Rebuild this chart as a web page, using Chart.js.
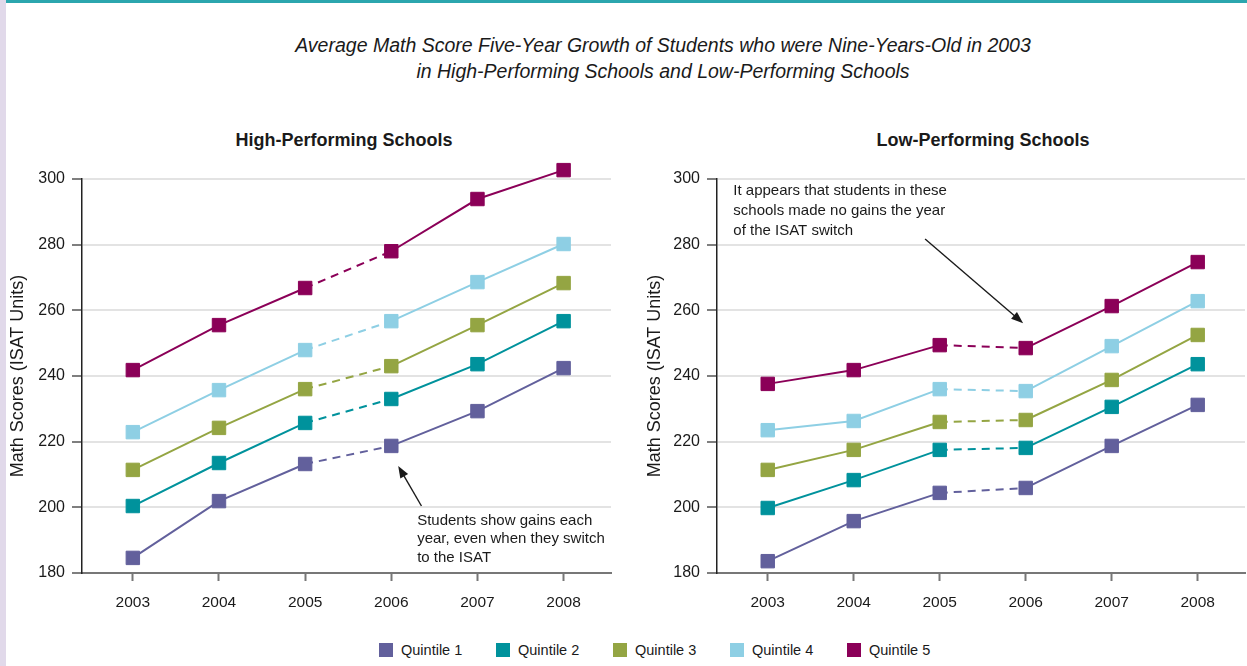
<!DOCTYPE html>
<html>
<head>
<meta charset="utf-8">
<script src="https://cdn.jsdelivr.net/npm/chart.js@4/dist/chart.umd.min.js"></script>
<style>
  body { margin: 0; background: #fff; width: 1247px; height: 666px; overflow: hidden; position: relative;
         font-family: "Liberation Sans Narrow", "Arial Narrow", "Liberation Sans", Arial, sans-serif; color: #1a1a1a; }
  #strip { position: absolute; left: 0; top: 0; width: 6px; height: 666px; background: #e1d9ea; }
  #topline { position: absolute; left: 6px; top: 0; right: 0; height: 3px; background: #2ba6ae; }
  #title { position: absolute; left: 663px; top: 32px; transform: translateX(-50%); text-align: center;
           font-style: italic; font-size: 19.5px; line-height: 26px; white-space: nowrap; }
  .sub { position: absolute; top: 130px; transform: translateX(-50%); font-weight: bold; font-size: 18px; white-space: nowrap; }
  .box { position: absolute; top: 0; height: 620px; }
  #legend { position: absolute; top: 642px; left: 379px; display: flex; font-size: 14.5px; }
  .item { display: flex; align-items: center; width: 117px; }
  .item span { display: inline-block; width: 14px; height: 14px; margin-right: 8px; }
</style>
</head>
<body>
<div id="strip"></div>
<div id="topline"></div>
<div id="title">Average Math Score Five-Year Growth of Students who were Nine-Years-Old in 2003<br>in High-Performing Schools and Low-Performing Schools</div>
<div class="sub" style="left:344px">High-Performing Schools</div>
<div class="sub" style="left:983px">Low-Performing Schools</div>
<div class="box" style="left:0;width:630px"><canvas id="high"></canvas></div>
<div class="box" style="left:630px;width:617px"><canvas id="low"></canvas></div>
<div id="legend"></div>

<script>
var years = [2003, 2004, 2005, 2006, 2007, 2008];
var names = ["Quintile 1", "Quintile 2", "Quintile 3", "Quintile 4", "Quintile 5"];
var colors = ["#62609c", "#00929c", "#94a543", "#8ecfe4", "#8b0058"];

// high-performing schools
var highQ1 = [184.6, 201.9, 213.2, 218.7, 229.3, 242.4];
var highQ2 = [200.4, 213.5, 225.7, 233.0, 243.6, 256.7];
var highQ3 = [211.4, 224.2, 236.0, 243.0, 255.5, 268.3];
var highQ4 = [222.9, 235.7, 247.9, 256.7, 268.6, 280.2];
var highQ5 = [241.8, 255.5, 266.8, 278.0, 293.9, 302.7];

// low-performing schools
var lowQ1 = [183.6, 195.8, 204.4, 205.9, 218.7, 231.2];
var lowQ2 = [199.8, 208.3, 217.5, 218.1, 230.6, 243.6];
var lowQ3 = [211.4, 217.5, 226.0, 226.6, 238.8, 252.5];
var lowQ4 = [223.5, 226.3, 236.0, 235.4, 249.1, 262.8];
var lowQ5 = [237.6, 241.8, 249.4, 248.5, 261.3, 274.7];

var yTicks = [180, 200, 220, 240, 260, 280, 300];

var FONT = '"Liberation Sans Narrow", "Arial Narrow", "Liberation Sans", Arial, sans-serif';

// legend
var legend = document.getElementById("legend");
for (var i = 0; i < names.length; i++) {
  var it = document.createElement("div");
  it.className = "item";
  it.innerHTML = '<span style="background:' + colors[i] + '"></span>' + names[i];
  legend.appendChild(it);
}

// annotation text + arrow, placed in data coordinates
var notes = {
  id: "notes",
  afterDatasetsDraw: function (chart, args, opts) {
    var ctx = chart.ctx, x = chart.scales.x, y = chart.scales.y;
    ctx.save();
    ctx.fillStyle = "#1a1a1a";
    ctx.font = "15px " + FONT;
    ctx.textBaseline = "middle";
    var tx = x.getPixelForValue(opts.at[0]), ty = y.getPixelForValue(opts.at[1]);
    for (var i = 0; i < opts.lines.length; i++) {
      ctx.fillText(opts.lines[i], tx, ty + i * opts.lh);
    }
    var x0 = x.getPixelForValue(opts.from[0]), y0 = y.getPixelForValue(opts.from[1]);
    var x1 = x.getPixelForValue(opts.to[0]), y1 = y.getPixelForValue(opts.to[1]);
    var a = Math.atan2(y1 - y0, x1 - x0);
    ctx.strokeStyle = "#1a1a1a";
    ctx.lineWidth = 1.4;
    ctx.beginPath();
    ctx.moveTo(x0, y0);
    ctx.lineTo(x1 - 8 * Math.cos(a), y1 - 8 * Math.sin(a));
    ctx.stroke();
    ctx.beginPath();
    ctx.moveTo(x1, y1);
    ctx.lineTo(x1 - 12 * Math.cos(a) + 4.5 * Math.sin(a), y1 - 12 * Math.sin(a) - 4.5 * Math.cos(a));
    ctx.lineTo(x1 - 12 * Math.cos(a) - 4.5 * Math.sin(a), y1 - 12 * Math.sin(a) + 4.5 * Math.cos(a));
    ctx.closePath();
    ctx.fill();
    ctx.restore();
  }
};

function makeChart(id, series, axisW, padRight, titlePad, note) {
  var datasets = [];
  for (var i = series.length - 1; i >= 0; i--) {
    datasets.push({
      label: names[i],
      data: years.map(function (yr, j) { return { x: yr, y: series[i][j] }; }),
      borderColor: colors[i],
      backgroundColor: colors[i],
      borderWidth: 2,
      clip: false,
      pointStyle: "rect",
      pointRadius: 9.5,
      pointHoverRadius: 9.5,
      pointBorderWidth: 1,
      pointBorderColor: colors[i],
      segment: {
        // 2005 -> 2006 is the year of the switch to the ISAT
        borderDash: function (c) { return c.p0DataIndex === 2 ? [8, 6] : undefined; }
      }
    });
  }
  return new Chart(document.getElementById(id), {
    type: "line",
    data: { datasets: datasets },
    options: {
      responsive: true,
      maintainAspectRatio: false,
      animation: false,
      layout: { autoPadding: false, padding: { top: 179, bottom: 7, left: 0, right: padRight } },
      plugins: { legend: { display: false }, tooltip: { enabled: false }, notes: note },
      scales: {
        x: {
          type: "linear",
          min: 2002.41,
          max: 2008.55,
          afterBuildTicks: function (s) { s.ticks = years.map(function (v) { return { value: v }; }); },
          afterFit: function (s) {
            s.height = 40;
            s.paddingLeft = 0; s.paddingRight = 0;
          },
          ticks: { callback: function (v) { return String(v); }, color: "#1a1a1a", font: { family: FONT, size: 15.5 }, padding: 12 },
          grid: { drawOnChartArea: false, tickLength: 8, tickColor: "#777", tickWidth: 2 },
          border: { color: "#777", width: 2 }
        },
        y: {
          min: 180,
          max: 300,
          afterBuildTicks: function (s) { s.ticks = yTicks.map(function (v) { return { value: v }; }); },
          afterFit: function (s) {
            s.width = axisW;
            s.paddingTop = 0; s.paddingBottom = 0;
          },
          ticks: { color: "#1a1a1a", font: { family: FONT, size: 16 }, padding: 7 },
          grid: { color: "#e3e3e3", lineWidth: 2, tickLength: 10, tickColor: "#555", tickWidth: 1.5 },
          border: { color: "#222", width: 1.5 },
          title: { display: true, text: "Math Scores (ISAT Units)", color: "#1a1a1a",
                   font: { family: FONT, size: 18 }, padding: { top: titlePad, bottom: 0 } }
        }
      }
    },
    plugins: [notes]
  });
}

makeChart("high", [highQ1, highQ2, highQ3, highQ4, highQ5], 82, 19, 7, {
  lines: ["Students show gains each", "year, even when they switch", "to the ISAT"],
  at: [2006.3, 196], lh: 18.5,
  from: [2006.35, 200.4], to: [2006.08, 212.6]
});
makeChart("low", [lowQ1, lowQ2, lowQ3, lowQ4, lowQ5], 87, 2, 14, {
  lines: ["It appears that students in these", "schools made no gains the year", "of the ISAT switch"],
  at: [2002.6, 296.3], lh: 20,
  from: [2004.83, 281.7], to: [2005.97, 256.1]
});
</script>
</body>
</html>
